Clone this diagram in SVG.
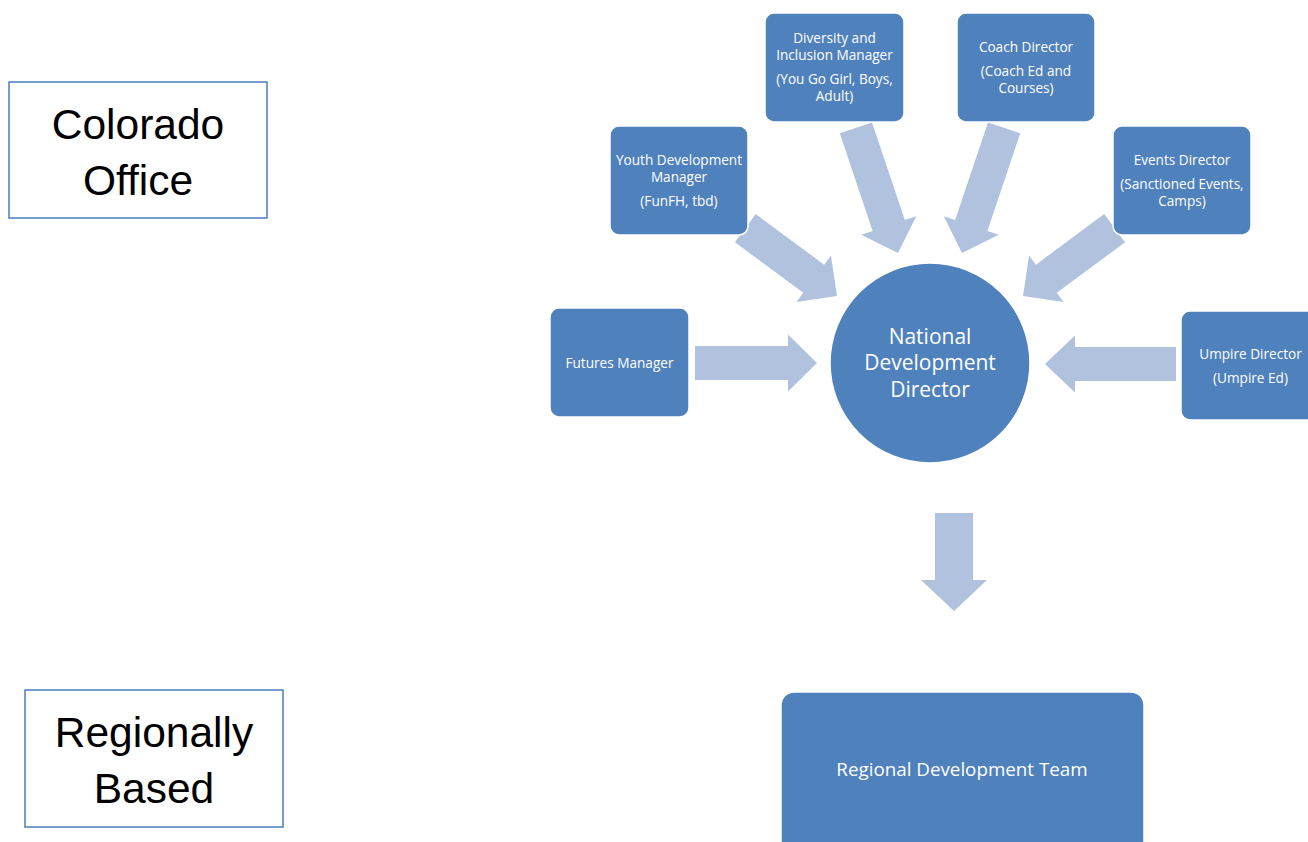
<svg xmlns="http://www.w3.org/2000/svg" width="1308" height="842" viewBox="0 0 1308 842">
<style>
.node{fill:#4F81BD;stroke:#ffffff;stroke-width:1.5}
.arr{fill:#B0C2DE}
.t{font-family:"Open Sans","Liberation Sans",sans-serif;fill:#ffffff;text-anchor:middle;font-size:13.6px}
.tc{font-family:"Open Sans","Liberation Sans",sans-serif;fill:#ffffff;text-anchor:middle;font-size:21px}
.tr{font-family:"Open Sans","Liberation Sans",sans-serif;fill:#ffffff;text-anchor:middle;font-size:18.8px}
.lbox{fill:#ffffff;stroke:#4A7EBB;stroke-width:1.5}
.lt{font-family:"Liberation Sans",sans-serif;fill:#000000;text-anchor:middle;font-size:42.5px}
</style>
<rect width="1308" height="842" fill="#ffffff"/>
<g id="connectors">
<polygon class="arr" transform="translate(837,296) rotate(36.5)" points="-114,-17.5 -29,-17.5 -29,-29 0,0 -29,29 -29,17.5 -114,17.5"/>
<polygon class="arr" transform="translate(1023,296) rotate(143.5)" points="-114,-17.5 -29,-17.5 -29,-29 0,0 -29,29 -29,17.5 -114,17.5"/>
<polygon class="arr" transform="translate(898,253) rotate(71.4)" points="-132,-17 -29,-17 -29,-29 0,0 -29,29 -29,17 -132,17"/>
<polygon class="arr" transform="translate(962,253) rotate(108.6)" points="-132,-17 -29,-17 -29,-29 0,0 -29,29 -29,17 -132,17"/>
<polygon class="arr" transform="translate(817,363)" points="-122,-17 -29,-17 -29,-28.5 0,0 -29,28.5 -29,17 -122,17"/>
<polygon class="arr" transform="translate(1045,364) rotate(180)" points="-131,-17 -30,-17 -30,-28.5 0,0 -30,28.5 -30,17 -131,17"/>
<polygon class="arr" points="935,513 973,513 973,580 987,580 954,611 921,580 935,580"/>
</g>
<g id="colorado">
<rect class="lbox" x="9" y="82" width="258" height="136"/>
<text class="lt" x="138" y="139">Colorado</text>
<text class="lt" x="138" y="195">Office</text>
</g>
<g id="regionally">
<rect class="lbox" x="25" y="690" width="258" height="137"/>
<text class="lt" x="154" y="747">Regionally</text>
<text class="lt" x="154" y="803">Based</text>
</g>
<g id="diversity">
<rect class="node" x="765" y="13" width="139" height="109" rx="9"/>
<text class="t" x="834.5" y="43">Diversity and</text>
<text class="t" x="834.5" y="60">Inclusion Manager</text>
<text class="t" x="834.5" y="84">(You Go Girl, Boys,</text>
<text class="t" x="834.5" y="101">Adult)</text>
</g>
<g id="coach">
<rect class="node" x="957" y="13" width="138" height="109" rx="9"/>
<text class="t" x="1026" y="52">Coach Director</text>
<text class="t" x="1026" y="76">(Coach Ed and</text>
<text class="t" x="1026" y="93">Courses)</text>
</g>
<g id="youth">
<rect class="node" x="610" y="126" width="138" height="109" rx="9"/>
<text class="t" x="679" y="165">Youth Development</text>
<text class="t" x="679" y="182">Manager</text>
<text class="t" x="679" y="206">(FunFH, tbd)</text>
</g>
<g id="events">
<rect class="node" x="1113" y="126" width="138" height="109" rx="9"/>
<text class="t" x="1182" y="165">Events Director</text>
<text class="t" x="1182" y="189">(Sanctioned Events,</text>
<text class="t" x="1182" y="206">Camps)</text>
</g>
<g id="futures">
<rect class="node" x="550" y="308" width="139" height="109" rx="9"/>
<text class="t" x="619.5" y="368">Futures Manager</text>
</g>
<g id="umpire">
<rect class="node" x="1181" y="311" width="139" height="109" rx="9"/>
<text class="t" x="1250.5" y="359">Umpire Director</text>
<text class="t" x="1250.5" y="383">(Umpire Ed)</text>
</g>
<g id="national">
<circle class="node" cx="930" cy="363" r="100"/>
<text class="tc" x="930" y="344">National</text>
<text class="tc" x="930" y="370">Development</text>
<text class="tc" x="930" y="397">Director</text>
</g>
<g id="regional">
<rect class="node" x="781" y="692" width="363" height="170" rx="13"/>
<text class="tr" x="962" y="776">Regional Development Team</text>
</g>
</svg>
